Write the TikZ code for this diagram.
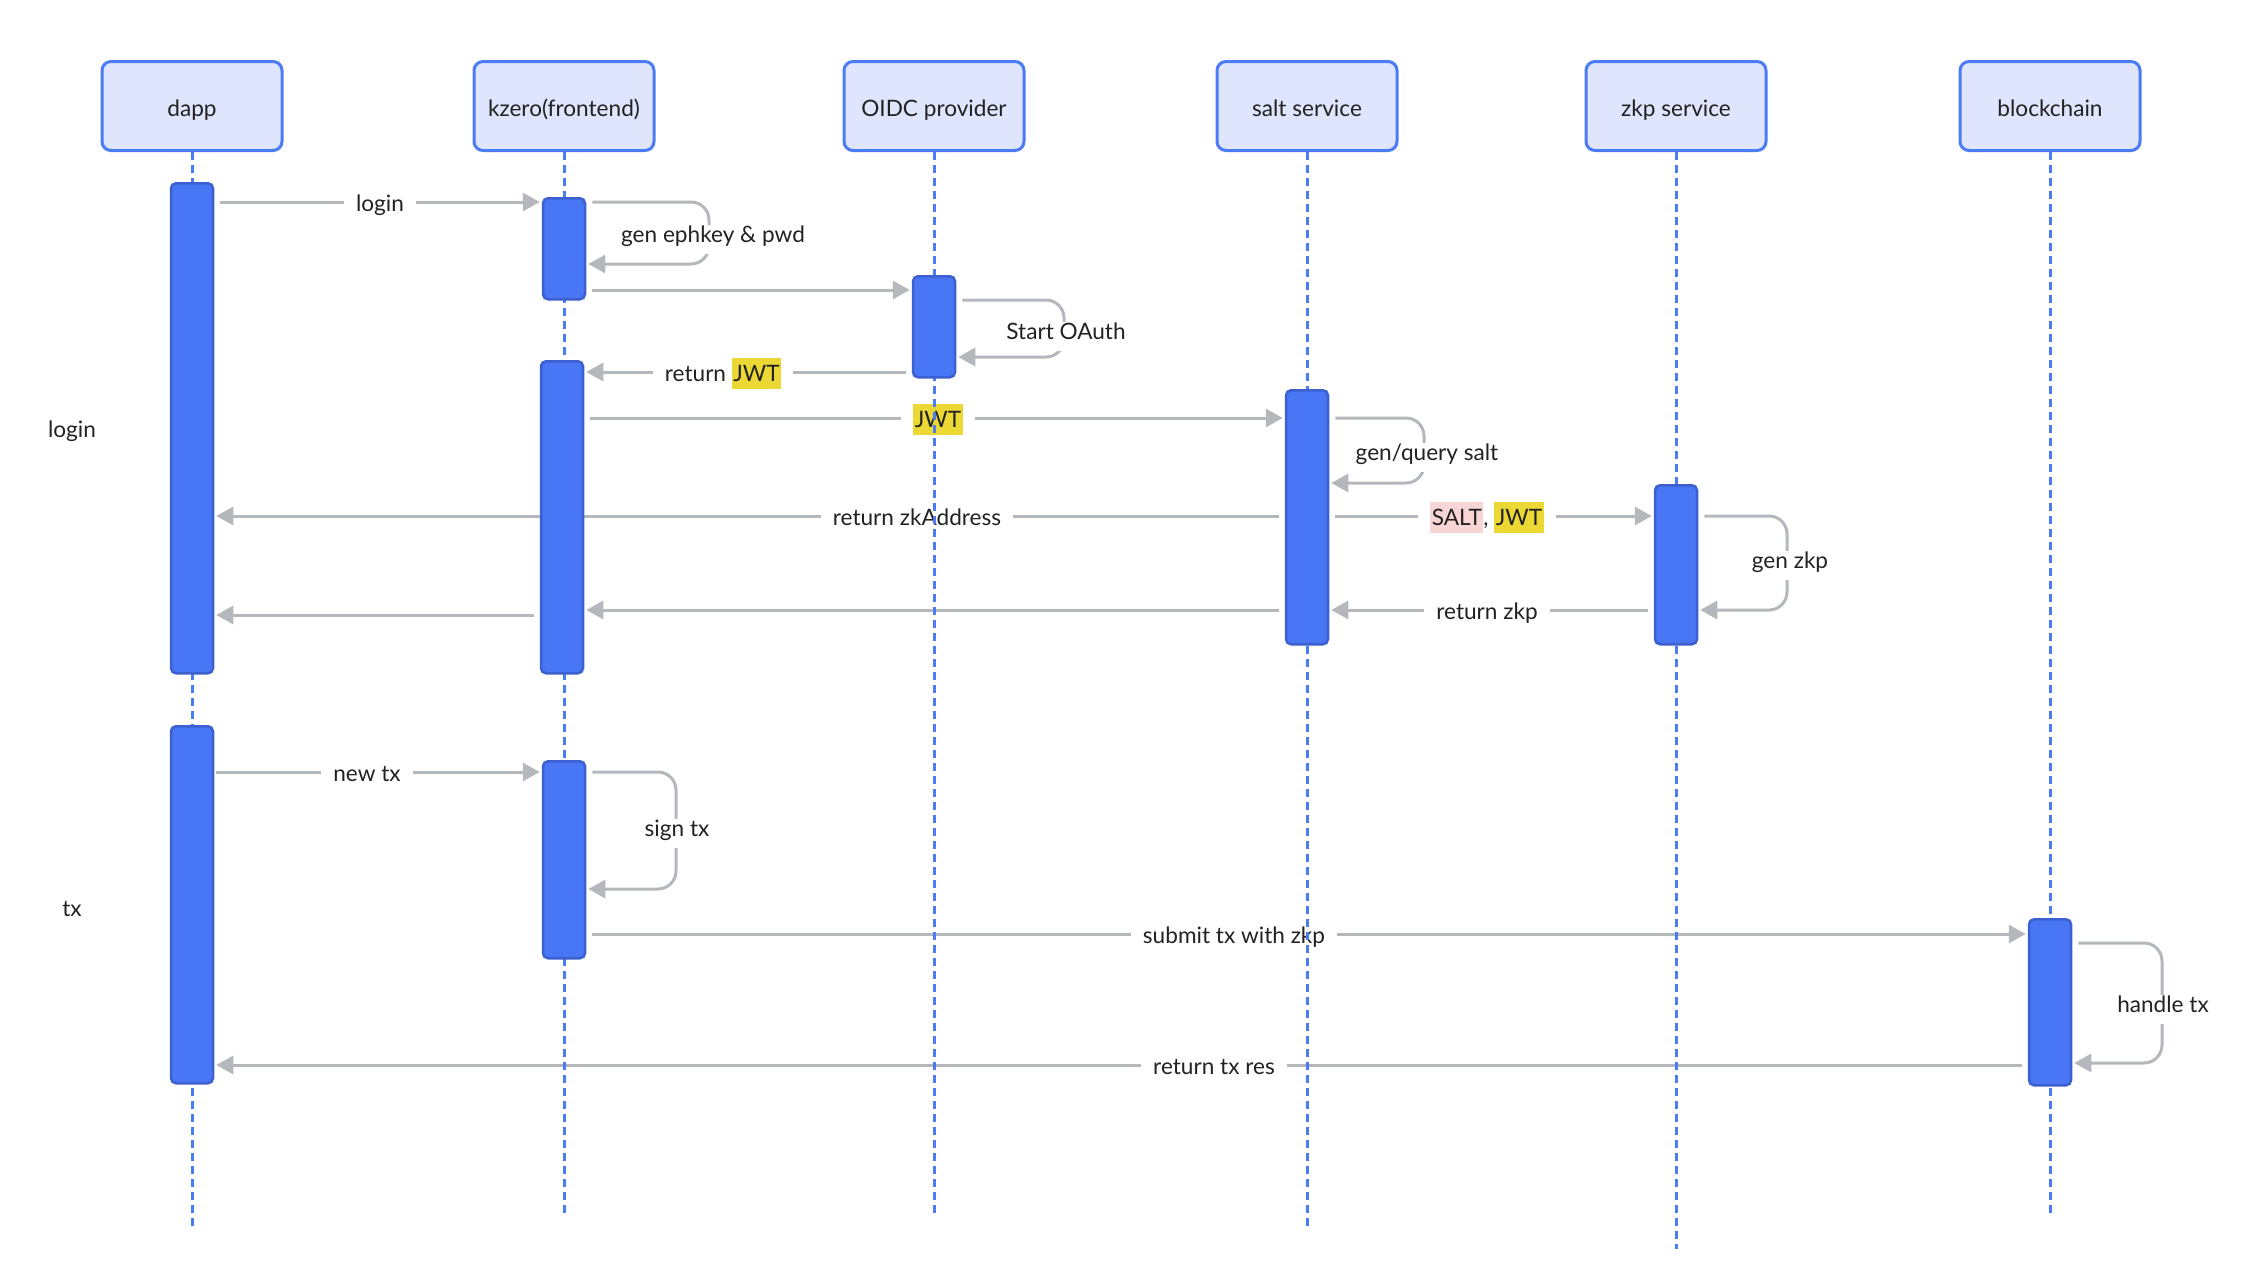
\documentclass[tikz,border=0pt]{standalone}
\usepackage{fontspec}
\setmainfont{Lato}
\usetikzlibrary{arrows.meta,calc}
\definecolor{actorfill}{HTML}{DEE5FC}
\definecolor{actorline}{HTML}{4B7BF5}
\definecolor{barfill}{HTML}{4876F5}
\definecolor{barline}{HTML}{3C60D0}
\definecolor{msgline}{HTML}{B4B7BC}
\definecolor{txt}{HTML}{222222}
\definecolor{hlyellow}{HTML}{EBD834}
\definecolor{hlpink}{HTML}{F8D5D5}
\newcommand{\myfs}{\fontsize{22.6pt}{27pt}\selectfont}
\newcommand{\hly}[1]{{\setlength{\fboxsep}{0pt}\colorbox{hlyellow}{\rule[-7pt]{0pt}{31pt}\kern1.5pt #1\kern1.5pt}}}
\newcommand{\hlp}[1]{{\setlength{\fboxsep}{0pt}\colorbox{hlpink}{\rule[-7pt]{0pt}{31pt}\kern1.5pt #1\kern1.5pt}}}
\pgfdeclarelayer{back}
\pgfdeclarelayer{lbl}
\pgfdeclarelayer{mid}
\pgfsetlayers{back,lbl,mid,main}
\tikzset{
  actor/.style={draw=actorline, fill=actorfill, line width=3pt, rounded corners=9pt, minimum width=180pt, minimum height=89pt, inner sep=0pt, text=txt, font=\myfs, text height=26pt, text depth=5pt},
  bar/.style={draw=barline, fill=barfill, line width=2.5pt, rounded corners=5pt, minimum width=42pt, inner sep=0pt, anchor=north},
  life/.style={draw=actorline, line width=3pt, dash pattern=on 8pt off 5pt},
  msg/.style={draw=msgline, line width=3pt, -{Triangle[length=17pt,width=18pt]}},
  selfloop/.style={msg, rounded corners=18pt},
  lbl/.style={fill=white, inner xsep=12pt, inner ysep=6pt, text=txt, font=\myfs, text height=12pt, text depth=5pt, yshift=-6pt},
  grp/.style={text=txt, font=\myfs, text height=12pt, text depth=5pt, yshift=-6pt}
}
\begin{document}
\begin{tikzpicture}[x=1pt,y=-1pt]
\path[use as bounding box] (0,0) rectangle (2260,1282);
% actors
\node[actor] (dapp) at (192,106) {dapp};
\node[actor] (kz) at (564,106) {kzero(frontend)};
\node[actor] (oidc) at (934,106) {OIDC provider};
\node[actor] (salt) at (1307,106) {salt service};
\node[actor] (zkp) at (1676,106) {zkp service};
\node[actor] (bc) at (2050,106) {blockchain};
% activation bars
\node[bar, minimum height=490pt] (d1) at (192,182) {};
\node[bar, minimum height=357pt] (d2) at (192,725) {};
\node[bar, minimum height=101pt] (k1) at (564,197) {};
\node[bar, minimum height=312pt] (k2) at (562,360) {};
\node[bar, minimum height=197pt] (k3) at (564,760) {};
\node[bar, minimum height=101pt] (o1) at (934,275) {};
\node[bar, minimum height=254pt] (s1) at (1307,389) {};
\node[bar, minimum height=159pt] (z1) at (1676,484) {};
\node[bar, minimum height=166pt] (b1) at (2050,918) {};
% lifelines
\begin{pgfonlayer}{mid}
\draw[life] (dapp.south) -- (dapp.south |- 0,1226);
\draw[life] (kz.south) -- (kz.south |- 0,1215);
\draw[life] (oidc.south) -- (oidc.south |- 0,1215);
\draw[life] (salt.south) -- (salt.south |- 0,1227);
\draw[life] (zkp.south) -- (zkp.south |- 0,1249);
\draw[life] (bc.south) -- (bc.south |- 0,1215);
\end{pgfonlayer}
% messages
\begin{pgfonlayer}{back}
\draw[msg] ($(d1.east |- 0,202)+(6,0)$) -- ($(k1.west |- 0,202)+(-2,0)$);
\draw[selfloop] ($(k1.east |- 0,202)+(6,0)$) -- (709,202) -- (709,264) -- ($(k1.east |- 0,264)+(2,0)$);
\draw[msg] ($(k1.east |- 0,290)+(6,0)$) -- ($(o1.west |- 0,290)+(-2,0)$);
\draw[selfloop] ($(o1.east |- 0,300)+(6,0)$) -- (1064,300) -- (1064,357) -- ($(o1.east |- 0,357)+(2,0)$);
\draw[msg] ($(o1.west |- 0,372)+(-6,0)$) -- ($(k2.east |- 0,372)+(2,0)$);
\draw[msg] ($(k2.east |- 0,418)+(6,0)$) -- ($(s1.west |- 0,418)+(-2,0)$);
\draw[selfloop] ($(s1.east |- 0,418)+(6,0)$) -- (1424,418) -- (1424,483) -- ($(s1.east |- 0,483)+(2,0)$);
\draw[msg] ($(s1.west |- 0,516)+(-6,0)$) -- ($(d1.east |- 0,516)+(2,0)$);
\draw[msg] ($(s1.east |- 0,516)+(6,0)$) -- ($(z1.west |- 0,516)+(-2,0)$);
\draw[selfloop] ($(z1.east |- 0,516)+(6,0)$) -- (1787,516) -- (1787,610) -- ($(z1.east |- 0,610)+(2,0)$);
\draw[msg] ($(z1.west |- 0,610)+(-6,0)$) -- ($(s1.east |- 0,610)+(2,0)$);
\draw[msg] ($(s1.west |- 0,610)+(-6,0)$) -- ($(k2.east |- 0,610)+(2,0)$);
\draw[msg] ($(k2.west |- 0,615)+(-6,0)$) -- ($(d1.east |- 0,615)+(2,0)$);
\draw[msg] ($(d2.east |- 0,772)+(2,0)$) -- ($(k3.west |- 0,772)+(-2,0)$);
\draw[selfloop] ($(k3.east |- 0,772)+(6,0)$) -- (676,772) -- (676,889) -- ($(k3.east |- 0,889)+(2,0)$);
\draw[msg] ($(k3.east |- 0,934)+(6,0)$) -- ($(b1.west |- 0,934)+(-2,0)$);
\draw[selfloop] ($(b1.east |- 0,943)+(6,0)$) -- (2162,943) -- (2162,1063) -- ($(b1.east |- 0,1063)+(2,0)$);
\draw[msg] ($(b1.west |- 0,1065)+(-6,0)$) -- ($(d2.east |- 0,1065)+(2,0)$);
\end{pgfonlayer}
% labels
\begin{pgfonlayer}{lbl}
\node[lbl] (l1) at (380,202) {login};
\node[lbl] (l2) at (713,233) {gen ephkey \& pwd};
\node[lbl] (l4) at (1066,330) {Start OAuth};
\node[lbl] (l5) at (723,372) {return \hly{JWT}};
\node[lbl] (l6) at (938,418) {\hly{JWT}};
\node[lbl] (l7) at (1427,451) {gen/query salt};
\node[lbl] (l8) at (917,516) {return zkAddress};
\node[lbl] (l9) at (1487,516) {\hlp{SALT}, \hly{JWT}};
\node[lbl] (l10) at (1790,559) {gen zkp};
\node[lbl] (l11) at (1487,610) {return zkp};
\node[lbl] (l14) at (367,772) {new tx};
\node[lbl] (l15) at (677,827) {sign tx};
\node[lbl] (l16) at (1234,934) {submit tx with zkp};
\node[lbl] (l17) at (2163,1003) {handle tx};
\node[lbl] (l18) at (1214,1065) {return tx res};
\end{pgfonlayer}
% group labels
\node[grp] (g1) at (72,428) {login};
\node[grp] (g2) at (72,907) {tx};
\end{tikzpicture}
\end{document}
